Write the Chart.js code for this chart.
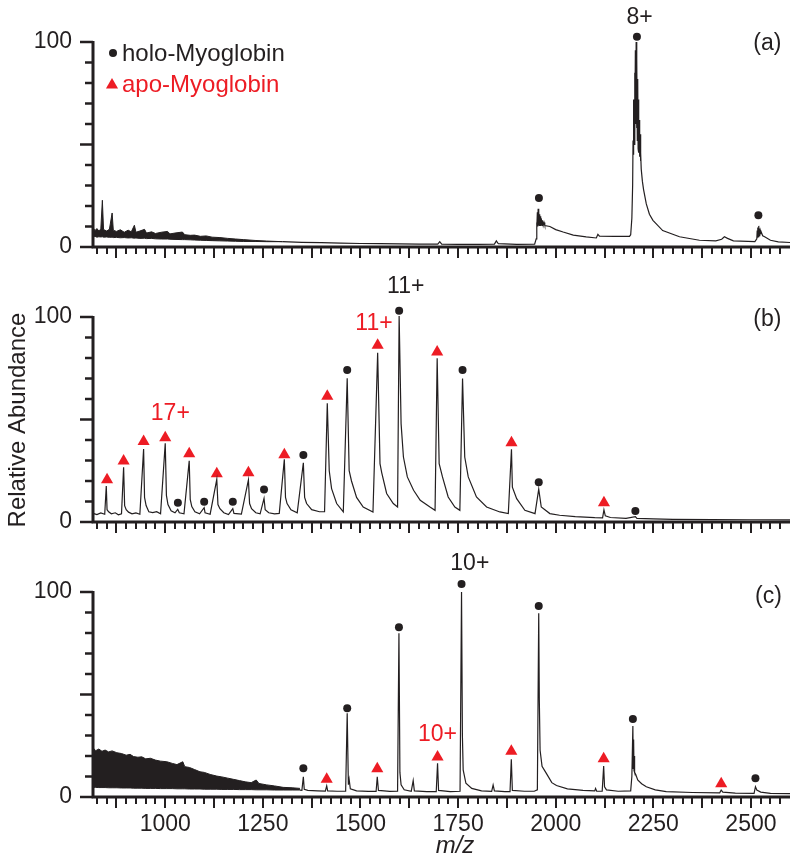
<!DOCTYPE html>
<html>
<head>
<meta charset="utf-8">
<title>Myoglobin ESI mass spectra</title>
<script src="https://cdn.jsdelivr.net/npm/chart.js@4.4.1/dist/chart.umd.min.js"></script>
<style>
  html, body { margin: 0; padding: 0; background: #fff; }
  #wrap { position: relative; width: 800px; height: 867px; }
  canvas { position: absolute; left: 0; }
</style>
</head>
<body>
<div id="wrap">
  <canvas id="panelA" width="800" height="270" style="top:0px"></canvas>
  <canvas id="panelB" width="800" height="280" style="top:270px"></canvas>
  <canvas id="panelC" width="800" height="317" style="top:550px"></canvas>
</div>
<script>
const INK = '#231f20';
const RED = '#ed1c24';

const xTickLabels = [1000, 1250, 1500, 1750, 2000, 2250, 2500];
const yTickLabels = [0, 100];

// ---- panel (a) ----
const noiseAX = [815, 820, 825, 830, 835, 839, 842, 850, 857, 864, 867, 875, 885, 895, 905, 913, 921, 925, 935, 947, 952, 965, 975, 990, 1006, 1012, 1025, 1044, 1050, 1064, 1075, 1090, 1105, 1120, 1140, 1160, 1180, 1200, 1230, 1260, 1300];
const noiseATop = [9.5, 8, 9, 7.8, 8.8, 22.8, 8.5, 7.8, 8.6, 16.6, 8.2, 7.6, 8.4, 7.2, 8.2, 7.4, 10.6, 7.2, 7.8, 8.6, 6.8, 7.4, 6.6, 7.2, 7.6, 6.4, 6.8, 7.3, 6, 5.7, 5.8, 5.2, 5.4, 4.8, 4.6, 4.2, 3.9, 3.6, 3.2, 2.9, 2.6];
const noiseABot = [5, 5.2, 4.8, 5, 4.9, 5, 4.8, 4.9, 4.7, 4.8, 4.6, 4.7, 4.5, 4.6, 4.4, 4.5, 4.3, 4.4, 4.2, 4.3, 4.1, 4.2, 4, 3.9, 3.9, 3.8, 3.7, 3.6, 3.6, 3.5, 3.4, 3.3, 3.2, 3.1, 3, 2.9, 2.8, 2.7, 2.7, 2.6, 2.6];

const specAX = [1300, 1350, 1400, 1450, 1500, 1550, 1600, 1650, 1698, 1703, 1708, 1750, 1800, 1843, 1848, 1853, 1900, 1946,
    1950, 1951, 1952, 1953, 1954, 1955, 1956, 1957, 1958, 1959, 1960, 1961, 1962, 1963, 1965, 1966, 1968, 1970, 1972,
    1985, 2000, 2019, 2045, 2078, 2104, 2108, 2112, 2150, 2189,
    2192, 2195, 2197, 2198, 2199, 2200, 2201, 2202, 2203, 2204, 2205, 2206, 2207, 2208, 2209, 2210, 2211, 2212, 2213, 2214, 2215, 2216, 2217, 2218, 2219,
    2222, 2225, 2232, 2240, 2249, 2274, 2317, 2368, 2410, 2425, 2432, 2440, 2455, 2510,
    2515, 2516, 2517, 2518, 2519, 2520, 2521, 2522, 2523, 2524, 2526, 2527, 2530, 2535, 2550, 2570, 2600];
const specAY = [2.6, 2.3, 2.1, 1.9, 1.7, 1.6, 1.5, 1.4, 1.4, 2.6, 1.4, 1.3, 1.3, 1.4, 3, 1.6, 1.3, 1.4,
    4, 12, 9, 17, 10, 18.7, 10.5, 17, 10.5, 16, 10.5, 15, 10.5, 14, 10.5, 13, 10.5, 12, 10.5,
    10, 8.5, 7.3, 5.8, 4.9, 4.4, 6.2, 5.3, 5.2, 5.2,
    6, 14, 30, 52, 45, 72, 50, 85, 55, 96, 60, 100, 58, 92, 52, 82, 48, 72, 46, 62, 44, 55, 42, 46, 38,
    32, 28, 21, 16, 13, 8, 5, 3.3, 3, 3.8, 5, 4.2, 3, 2.6,
    4, 8, 4.5, 9.5, 5, 10.3, 5.5, 9, 5.5, 8, 6.5, 7, 5.5, 5, 3.3, 2.5, 2.2];

const holoAX = [1957, 2208, 2519];
const holoAY = [23.9, 102.6, 15.5];

// ---- panel (b) ----
const specBX = [815, 825, 835, 845, 849, 851, 855, 862, 872, 880, 888, 893.4, 896, 900, 906, 915, 925, 935, 944.6, 947, 951, 958, 968, 978, 988, 1000, 1003, 1007, 1015, 1025, 1032, 1036, 1048, 1061.4, 1064, 1068, 1076, 1088, 1099.7, 1102, 1115, 1132, 1135, 1140, 1150, 1162, 1173, 1176, 1195, 1213, 1216, 1221, 1232, 1243, 1253, 1256, 1265, 1280, 1292, 1305, 1308, 1312, 1322, 1338, 1353.7, 1357, 1362, 1375, 1395, 1408, 1415, 1420, 1426, 1439, 1456, 1466, 1471, 1477, 1490, 1507, 1532, 1544, 1550, 1554.5, 1567, 1584, 1595, 1599, 1604, 1610, 1620, 1636, 1653, 1678, 1691, 1696.4, 1701.5, 1710, 1724.6, 1741.7, 1754.5, 1761.4, 1767, 1776, 1797, 1823, 1857, 1878.6, 1886.7, 1889, 1900, 1921, 1947, 1956.5, 1963, 1985, 2010, 2050, 2100, 2120, 2123.5, 2127, 2140, 2180, 2204, 2208, 2250, 2300, 2400, 2500, 2600];
const specBY = [4.2, 3.6, 4.4, 3.8, 17.6, 6, 5, 4, 4.5, 3.5, 4, 26.7, 8, 6, 4.8, 4, 4.4, 3.8, 35.6, 12, 8, 5, 4.6, 5, 4, 38.4, 13, 8.5, 5.5, 4.5, 6.2, 4.5, 4, 29.9, 11, 7.5, 5, 4, 7, 4.5, 3.8, 20.8, 8.5, 6.5, 4.5, 3.6, 6.5, 4.2, 3.8, 20.5, 9, 6.5, 4.5, 4, 11.5, 6, 4.5, 4, 4.2, 30.6, 12, 9, 6, 4.5, 28.9, 12, 9, 6, 5, 5, 57.9, 25, 16.3, 9, 4.9, 70.1, 25, 20, 12, 7.3, 4.9, 82.6, 28.5, 24, 13.9, 9, 7.3, 100.5, 48, 31.7, 22, 15.5, 10.6, 7.3, 5.7, 79.9, 28.5, 22, 12.2, 7.3, 5.7, 70, 31.7, 22, 12.2, 7.3, 4.9, 4.1, 35.5, 17, 11.4, 5.7, 4.1, 16, 7.3, 4.1, 3.3, 2.6, 2.1, 2, 5.9, 3, 2.2, 1.8, 2.6, 1.8, 1.5, 1.3, 1.2, 1.1, 1];

const holoBX = [1032.4, 1099.7, 1173, 1253, 1353.7, 1466, 1599, 1761.4, 1956.5, 2204];
const holoBY = [9.4, 9.9, 9.9, 15.9, 32.7, 74.1, 103.1, 74.1, 19.4, 5.4];
const apoBX = [851, 893.4, 944.6, 1000, 1061.4, 1132, 1213, 1305, 1415, 1544, 1696.4, 1886.7, 2123.5];
const apoBY = [20.6, 29.7, 39.3, 41.1, 33.3, 23.5, 24, 32.8, 61.4, 86.2, 82.9, 38.7, 9.4];

// ---- panel (c) ----
const noiseCX = [815, 822, 830, 838, 846, 855, 864, 876, 888, 900, 910, 919, 930, 940, 950, 962, 975, 988, 1004, 1018, 1030, 1045, 1050, 1062, 1075, 1089, 1100, 1115, 1132, 1145, 1160, 1175, 1190, 1205, 1220, 1233, 1240, 1260, 1280, 1302, 1325, 1345];
const noiseCTop = [24, 22.6, 23.4, 22.3, 22.9, 22, 22.5, 21.6, 21.2, 20.4, 20.8, 19.7, 19.4, 19.6, 18.6, 18.9, 18, 17.5, 17.2, 16.4, 15.8, 17.2, 14.8, 14.4, 13.4, 12.3, 12, 11, 10.2, 9.8, 9.2, 8.6, 8, 7.4, 7, 8.3, 6.6, 5.9, 5.4, 4.7, 4.5, 4.2];
const noiseCBot = [4.7, 4.7, 4.6, 4.6, 4.6, 4.5, 4.5, 4.5, 4.4, 4.4, 4.4, 4.3, 4.3, 4.3, 4.2, 4.2, 4.2, 4.1, 4.1, 4.1, 4, 4, 4, 3.9, 3.9, 3.9, 3.8, 3.8, 3.8, 3.7, 3.7, 3.7, 3.6, 3.6, 3.6, 3.5, 3.5, 3.5, 3.4, 3.4, 3.4, 3.4];

const specCX = [1345, 1350, 1353.7, 1356, 1365, 1390, 1410, 1413.5, 1416, 1440, 1462, 1466, 1469, 1471, 1474, 1490, 1520, 1540, 1543, 1546, 1575, 1595, 1598.5, 1601, 1604, 1612, 1630, 1635, 1638, 1670, 1694, 1697.4, 1700, 1730, 1755, 1758.8, 1761, 1763, 1770, 1785, 1810, 1836, 1839.7, 1843, 1870, 1883, 1886.3, 1889, 1920, 1945, 1953, 1956.5, 1958, 1960, 1965, 1976, 1990, 2002, 2030, 2070, 2100, 2102, 2105, 2119, 2122.8, 2125, 2130, 2160, 2192, 2195, 2197.6, 2198.5, 2199.5, 2200.5, 2201.5, 2202.5, 2205, 2210, 2220, 2232, 2255, 2283, 2350, 2420, 2423.8, 2428, 2460, 2508, 2511.5, 2515, 2525, 2550, 2600];
const specCY = [3.4, 3.3, 9.9, 3.8, 3.2, 3, 2.9, 5.4, 3, 2.8, 2.8, 40.8, 6, 8.6, 4, 3, 2.7, 2.7, 9.9, 3.2, 2.7, 2.8, 79.9, 12, 6, 3.5, 2.8, 8, 3, 2.6, 2.6, 16.4, 3.2, 2.6, 2.8, 100, 30, 13.2, 6.7, 4.2, 3, 2.8, 5.9, 3, 2.6, 2.6, 18.4, 3.2, 2.8, 2.8, 3.5, 89.6, 47.3, 22.8, 15, 11.5, 7, 5.6, 4, 3.2, 3, 4.2, 2.8, 2.8, 15.1, 5, 3.5, 2.8, 3, 10, 34.6, 14, 28, 13, 20, 12, 11, 8.3, 6.5, 5, 3.5, 2.6, 2.2, 2, 3.4, 2.4, 1.9, 1.8, 5, 3.4, 2.4, 1.8, 1.6];

const holoCX = [1353.7, 1466, 1598.5, 1758.8, 1956.5, 2197.6, 2511.5];
const holoCY = [14, 43.3, 82.8, 103.9, 93.2, 38, 9.1];
const apoCX = [1413.5, 1543, 1697.4, 1886.3, 2122.8, 2423.8];
const apoCY = [8.6, 13.8, 19.5, 22.3, 18.7, 6.5];

// helpers to turn the arrays into chart.js points / datasets
const pts = (xs, ys) => xs.map((v, i) => ({ x: v, y: ys[i] }));

function spectrum(xs, ys) {
    return { data: pts(xs, ys), borderColor: INK, borderWidth: 1.2, pointRadius: 0, fill: false, clip: false };
}

// noise region: upper edge filled down to the lower edge
function band(xs, top, bot) {
    return [
        { data: pts(xs, top), borderColor: INK, backgroundColor: INK, borderWidth: 1, pointRadius: 0, fill: '+1', clip: false },
        { data: pts(xs, bot), borderColor: INK, borderWidth: 1, pointRadius: 0, fill: false, clip: false }
    ];
}

function markers(xs, ys, style, color, r) {
    return { data: pts(xs, ys), showLine: false, pointStyle: style, pointRadius: r, pointHoverRadius: r,
             backgroundColor: color, borderColor: color, borderWidth: 0, clip: false };
}

const FONT = '"Liberation Sans", Arial, sans-serif';
Chart.defaults.font.family = FONT;
Chart.defaults.color = INK;

// axis lines, tick marks and the text annotations
const panelDecor = {
    id: 'panelDecor',
    afterDraw(chart, args, opts) {
        const ctx = chart.ctx;
        const xs = chart.scales.x, ys = chart.scales.y;
        const a = chart.chartArea;
        const top = ys.getPixelForValue(100);
        ctx.save();
        ctx.strokeStyle = INK;
        ctx.fillStyle = INK;

        // axes
        ctx.lineWidth = 3;
        ctx.beginPath();
        ctx.moveTo(a.left, top - 1);
        ctx.lineTo(a.left, a.bottom);
        ctx.lineTo(a.right, a.bottom);
        ctx.stroke();

        ctx.lineWidth = 2;
        for (let v = 825; v < 2600; v += 25) {
            const px = Math.round(xs.getPixelForValue(v));
            const len = v % 125 === 0 ? 11 : 7;
            ctx.beginPath();
            ctx.moveTo(px, a.bottom);
            ctx.lineTo(px, a.bottom + len);
            ctx.stroke();
        }
        ctx.lineWidth = 2.5;
        for (let v = 0; v <= 100; v += 10) {
            const py = ys.getPixelForValue(v);
            const len = v % 50 === 0 ? 13 : 8;
            ctx.beginPath();
            ctx.moveTo(a.left - len, py);
            ctx.lineTo(a.left, py);
            ctx.stroke();
        }

        ctx.font = '23px ' + FONT;
        ctx.textBaseline = 'middle';
        ctx.textAlign = 'right';
        yTickLabels.forEach(v => ctx.fillText(String(v), a.left - 21, ys.getPixelForValue(v)));

        ctx.textAlign = 'center';
        if (opts.xLabels) {
            xTickLabels.forEach(v => ctx.fillText(String(v), xs.getPixelForValue(v), a.bottom + 28));
        }

        // charge state labels + panel letter
        (opts.labels || []).forEach(l => {
            ctx.fillStyle = l.color;
            ctx.fillText(l.text, xs.getPixelForValue(l.x), ys.getPixelForValue(l.y));
        });

        if (opts.legend) {
            ctx.font = '24px ' + FONT;
            ctx.textAlign = 'left';
            ctx.fillStyle = INK;
            Chart.helpers.drawPoint(ctx, { pointStyle: 'circle', radius: 4, borderWidth: 0 }, a.left + 20, top + 11);
            ctx.fillText('holo-Myoglobin', a.left + 29, top + 12);
            ctx.fillStyle = RED;
            ctx.strokeStyle = RED;
            Chart.helpers.drawPoint(ctx, { pointStyle: 'triangle', radius: 7, borderWidth: 0 }, a.left + 19, top + 43);
            ctx.fillText('apo-Myoglobin', a.left + 29, top + 43);
        }
        if (opts.yTitle) {
            ctx.font = '24px ' + FONT;
            ctx.fillStyle = INK;
            ctx.textAlign = 'center';
            ctx.translate(18, 150);
            ctx.rotate(-Math.PI / 2);
            ctx.fillText('Relative Abundance', 0, 0);
            ctx.setTransform(1, 0, 0, 1, 0, 0);
        }
        if (opts.xTitle) {
            ctx.font = 'italic 24px ' + FONT;
            ctx.fillStyle = INK;
            ctx.textAlign = 'center';
            ctx.fillText('m/z', 455, 296);
        }
        ctx.restore();
    }
};

// y runs to 110 so the markers above the 100 % peaks are still drawn;
// the axis line itself stops at 100
function makePanel(id, datasets, padTop, xHeight, decor) {
    return new Chart(document.getElementById(id), {
        type: 'line',
        data: { datasets: datasets },
        options: {
            responsive: false,
            animation: false,
            devicePixelRatio: 1,
            events: [],
            layout: { padding: { top: padTop, right: 10, left: 0, bottom: 0 } },
            plugins: { legend: { display: false }, tooltip: { enabled: false }, panelDecor: decor },
            scales: {
                x: {
                    type: 'linear', min: 815, max: 2600,
                    grid: { display: false, drawTicks: false },
                    border: { display: false },
                    ticks: { display: false },
                    afterFit: s => { s.height = xHeight; }
                },
                y: {
                    min: 0, max: 110,
                    grid: { display: false, drawTicks: false },
                    border: { display: false },
                    ticks: { display: false },
                    afterFit: s => { s.width = 93; }
                }
            }
        },
        plugins: [panelDecor]
    });
}

makePanel('panelA',
    [...band(noiseAX, noiseATop, noiseABot), spectrum(specAX, specAY), markers(holoAX, holoAY, 'circle', INK, 4)],
    21.5, 23,
    { legend: true, labels: [
        { text: '8+', x: 2215, y: 112, color: INK },
        { text: '(a)', x: 2542, y: 99, color: INK }
    ] });

makePanel('panelB',
    [spectrum(specBX, specBY), markers(holoBX, holoBY, 'circle', INK, 4), markers(apoBX, apoBY, 'triangle', RED, 7)],
    26.5, 28,
    { yTitle: true, labels: [
        { text: '11+', x: 1616, y: 115, color: INK },
        { text: '11+', x: 1534.5, y: 96.6, color: RED },
        { text: '17+', x: 1013, y: 52.7, color: RED },
        { text: '(b)', x: 2542, y: 98.5, color: INK }
    ] });

makePanel('panelC',
    [...band(noiseCX, noiseCTop, noiseCBot), spectrum(specCX, specCY), markers(holoCX, holoCY, 'circle', INK, 4), markers(apoCX, apoCY, 'triangle', RED, 7)],
    21.5, 70,
    { xTitle: true, xLabels: true, labels: [
        { text: '10+', x: 1780, y: 113.9, color: INK },
        { text: '10+', x: 1697, y: 30.2, color: RED },
        { text: '(c)', x: 2545, y: 97.6, color: INK }
    ] });
</script>
</body>
</html>
